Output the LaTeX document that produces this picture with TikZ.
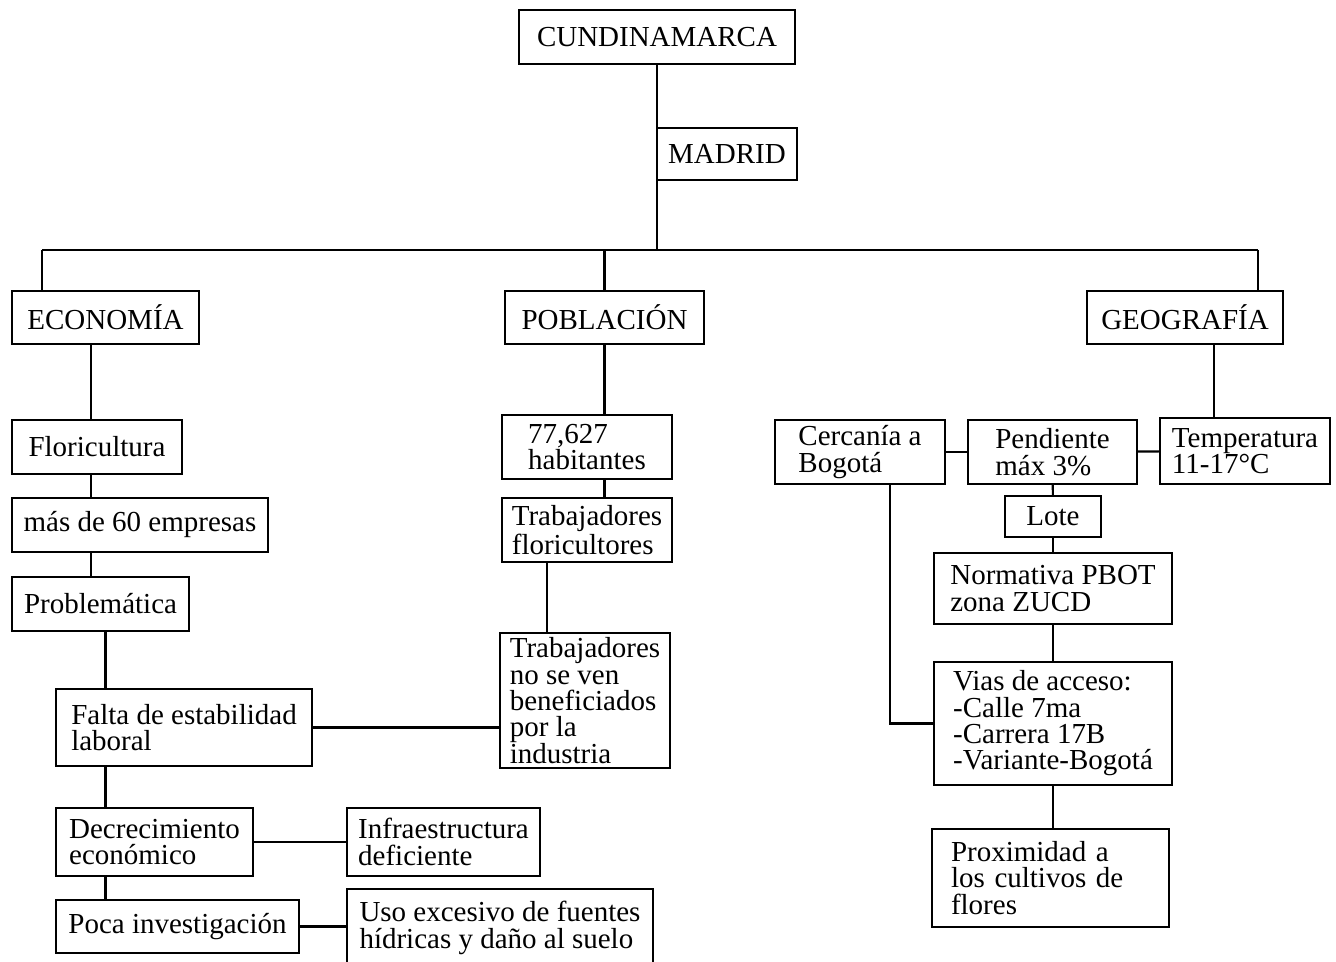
\documentclass[tikz,border=0pt]{standalone}
\usepackage{fontspec}
\setmainfont{Liberation Serif}

\begin{document}
\begin{tikzpicture}[x=0.02cm, y=-0.02cm, line width=1.2pt,
    box/.style={draw, align=left, inner sep=0pt,
        font=\fontsize{16.5}{15}\selectfont}]
    \clip (0,0) rectangle (1336,962);

    % top of the tree
    \node [box, minimum width=5.52cm, minimum height=1.08cm] (cund) at (657,37) {CUNDINAMARCA};
    \node [box, minimum width=2.8cm, minimum height=1.04cm] (madrid) at (727,154) {MADRID};
    \coordinate (barL) at (42,250);
    \coordinate (barM) at (657,250);
    \coordinate (barR) at (1258,250);

    \node [box, minimum width=3.74cm, minimum height=1.06cm] (econ) at (105.5,317.5) {ECONOMÍA};
    \node [box, minimum width=3.98cm, minimum height=1.06cm] (pobl) at (604.5,317.5) {POBLACIÓN};
    \node [box, minimum width=3.92cm, minimum height=1.06cm] (geog) at (1185,317.5) {GEOGRAFÍA};

    % economia
    \coordinate (ecol) at (91,0);
    \node [box, minimum width=3.4cm, minimum height=1.08cm] (flor) at (97,447) {Floricultura};
    \node [box, minimum width=5.12cm, minimum height=1.08cm] (empresas) at (140,525) {más de 60 empresas};
    \node [box, minimum width=3.54cm, minimum height=1.08cm] (problem) at (100.5,604) {Problemática};
    \node [box, minimum width=5.12cm, minimum height=1.54cm] (falta) at (184,727.5) {Falta de estabilidad\\laboral};
    \node [box, minimum width=3.94cm, minimum height=1.36cm] (decrec) at (154.5,842) {Decrecimiento\\económico};
    \node [box, minimum width=4.86cm, minimum height=1.06cm] (poca) at (177.5,926.5) {Poca investigación};
    \node [box, minimum width=3.86cm, minimum height=1.36cm] (infra) at (443.5,842) {Infraestructura\\deficiente};
    \node [box, minimum width=6.12cm, minimum height=1.56cm] (uso) at (500,928) {Uso excesivo de fuentes\\hídricas y daño al suelo};

    % poblacion
    \coordinate (pcol) at (547,0);
    \node [box, minimum width=3.4cm, minimum height=1.28cm] (hab) at (587,447) {77,627\\habitantes};
    \node [box, minimum width=3.4cm, minimum height=1.28cm] (trabflor) at (587,530) {Trabajadores\\floricultores};
    \node [box, minimum width=3.4cm, minimum height=2.7cm] (trabno) at (585,700.5)
        {Trabajadores\\no se ven\\beneficiados\\por la\\industria};

    % geografia
    \coordinate (gcol) at (1214,0);
    \coordinate (ccol) at (890,0);
    \node [box, minimum width=3.4cm, minimum height=1.28cm] (cerc) at (860,452) {Cercanía a\\Bogotá};
    \node [box, minimum width=3.38cm, minimum height=1.28cm] (pend) at (1052.5,452) {Pendiente\\máx 3\%};
    \node [box, minimum width=3.4cm, minimum height=1.32cm] (temp) at (1245,451) {Temperatura\\11-17°C};
    \node [box, minimum width=1.92cm, minimum height=0.82cm] (lote) at (1053,516.5) {Lote};
    \node [box, minimum width=4.76cm, minimum height=1.42cm] (norm) at (1053,588.5) {Normativa PBOT\\zona ZUCD};
    \node [box, minimum width=4.76cm, minimum height=2.46cm] (vias) at (1053,723.5)
        {Vias de acceso:\\-Calle 7ma\\-Carrera 17B\\-Variante-Bogotá};
    \node [box, minimum width=4.74cm, minimum height=1.96cm, text width=3.98cm] (prox) at (1050.5,878)
        {Proximidad a\\los cultivos de\\flores};

    % connectors
    \draw (cund) -- (barM);
    \draw (barL) -- (barR);
    \draw (barL) -- (barL |- econ.north);
    \draw (pobl) -- (pobl |- barM);
    \draw (barR) -- (barR |- geog.north);

    \draw (econ.south -| ecol) -- (flor.north -| ecol);
    \draw (flor.south -| ecol) -- (empresas.north -| ecol);
    \draw (empresas.south -| ecol) -- (problem.north -| ecol);
    \draw (problem.south -| econ) -- (falta.north -| econ);
    \draw (falta.south -| econ) -- (decrec.north -| econ);
    \draw (decrec.south -| econ) -- (poca.north -| econ);
    \draw (falta) -- (falta -| trabno.west);
    \draw (decrec) -- (infra);
    \draw (poca) -- (poca -| uso.west);

    \draw (pobl) -- (pobl |- hab.north);
    \draw (hab.south -| pobl) -- (trabflor.north -| pobl);
    \draw (trabflor.south -| pcol) -- (trabno.north -| pcol);

    \draw (geog.south -| gcol) -- (temp.north -| gcol);
    \draw (cerc) -- (pend);
    \draw (pend) -- (temp);
    \draw (pend) -- (lote);
    \draw (lote) -- (norm);
    \draw (norm) -- (vias);
    \draw (vias.south) -- (vias.south |- prox.north);
    \draw (cerc.south -| ccol) |- (vias.west);
\end{tikzpicture}
\end{document}
